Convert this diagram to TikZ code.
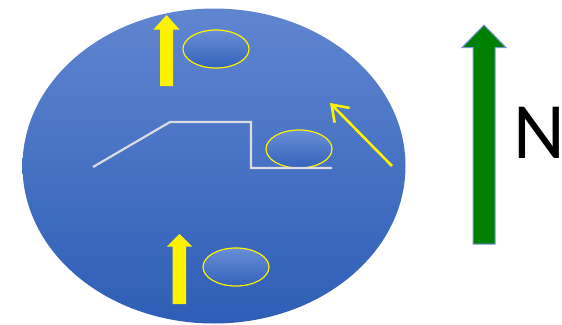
\documentclass[tikz,border=0pt]{standalone}
\usepackage{fontspec}
\setmainfont{Carlito}
\usetikzlibrary{shapes.geometric, arrows.meta}

\definecolor{fieldtop}{RGB}{96,133,208}
\definecolor{fieldbot}{RGB}{46,94,182}
\definecolor{pondtop}{RGB}{106,142,214}
\definecolor{pondbot}{RGB}{50,98,186}
\definecolor{trackgray}{RGB}{220,220,224}
\definecolor{arrowgreen}{RGB}{0,128,0}
\definecolor{edgeblue}{RGB}{122,152,222}

\begin{document}
\begin{tikzpicture}[
  x=1pt, y=-1pt,
  field/.style={ellipse, top color=fieldtop, bottom color=fieldbot, minimum width=383pt,
    minimum height=315pt, inner sep=0pt},
  pond/.style={ellipse, draw=yellow, line width=1.2pt, top color=pondtop, bottom color=pondbot,
    minimum width=66pt, minimum height=38pt, inner sep=0pt},
  flowarrow/.style={fill=yellow},
  northarrow/.style={fill=arrowgreen, draw=edgeblue, line width=1pt},
  track/.style={draw=trackgray, line width=2.2pt},
  wind/.style={draw=yellow, line width=2.6pt, -{Straight Barb[length=15pt, width=21pt]}}
]
\useasboundingbox (0,0) rectangle (562,324);

% the site: one big shaded ellipse
\node[field] (site) at (214,166) {};

% yellow block arrows (flow), top and bottom
\fill[flowarrow] (166.5,15) -- (179.5,29.5) -- (173,29.5) -- (173,86) -- (160,86) -- (160,29.5) -- (153.5,29.5) -- cycle;
\fill[flowarrow] (179.5,234) -- (192.3,246.7) -- (186,246.7) -- (186,304) -- (172.5,304) -- (172.5,246.7) -- (166.7,246.7) -- cycle;

% small ponds
\node[pond] (pondA) at (216,49) {};
\node[pond] (pondB) at (299,149) {};
\node[pond] (pondC) at (236,267) {};

% white track line
\draw[track] (93,167) -- (170,122) -- (251,122) -- (251,168) -- (332,168);

% wind arrow
\coordinate (windtail) at (392,166);
\coordinate (windtip) at (330,103);
\draw[wind] (windtail) -- (windtip);

% north arrow and label
\filldraw[northarrow] (484,25) -- (506,47.5) -- (495,47.5) -- (495,244) -- (473,244) -- (473,47.5) -- (462,47.5) -- cycle;
\node[anchor=base west, inner sep=0pt, font=\fontsize{80}{80}\selectfont] (north) at (513,158) {N};

\end{tikzpicture}
\end{document}
